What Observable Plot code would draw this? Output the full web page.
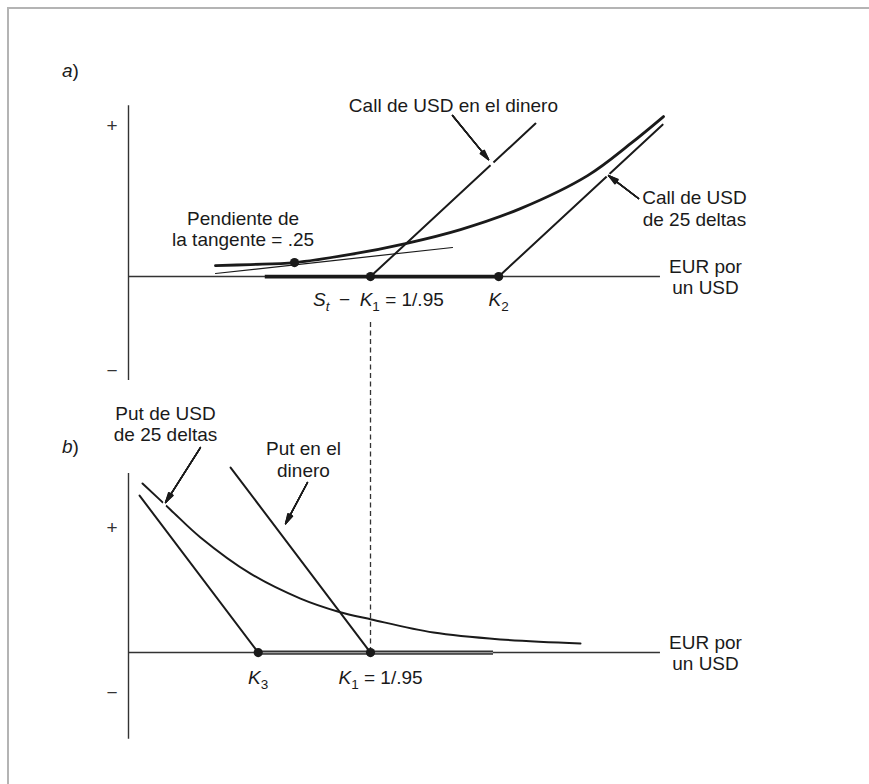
<!DOCTYPE html>
<html><head><meta charset="utf-8">
<script src="https://cdn.jsdelivr.net/npm/d3@7"></script>
<script src="https://cdn.jsdelivr.net/npm/@observablehq/plot@0.6"></script>
<style>
html,body{margin:0;padding:0;background:#fff;}
#wrap{position:relative;width:869px;height:784px;overflow:hidden;background:#fff;}
#frame{position:absolute;left:7px;top:7px;width:900px;height:800px;border-top:2px solid #b4b4b4;border-left:2px solid #b4b4b4;}
#wrap svg{position:absolute;left:0;overflow:visible;}
</style></head><body><div id="wrap"><div id="frame"></div></div>
<script>
// ---------- shared values (x = EUR por un USD, y = valor) ----------
const K1 = 1 / 0.95;
const K2 = 1.107;
const K3 = 1.005;
const xAxisStart = 0.95;
const xAxisEnd = 1.1756;

// ---------- panel a) ----------
const callCurveX = [0.9869, 1.0017, 1.0204, 1.0441, 1.0675, 1.0908, 1.1162, 1.1447, 1.1629, 1.1769];
const callCurveY = [0.0050, 0.0055, 0.0064, 0.0101, 0.0151, 0.0215, 0.0311, 0.0462, 0.0608, 0.0732];
const tangentX = [0.9869, 1.0874];
const tangentY = [0.0014, 0.0133];
const tangencyX = [1.0204];
const tangencyY = [0.0064];
const atmCallX = [K1, 1.1226];
const atmCallY = [0, 0.0700];
const otmCallX = [K2, 1.1765];
const otmCallY = [0, 0.0695];
const intrinsicAX = [1.008, K2];
const axisAY = [-0.0476, 0.0782];
const signTicksA = [0.0691, -0.0430];
const dashTopA = -0.021;
const arrowsA_x1 = [1.0874, 1.1663];
const arrowsA_y1 = [0.0737, 0.0357];
const arrowsA_x2 = [1.1027, 1.1536];
const arrowsA_y2 = [0.0535, 0.0462];
const arrowsA_gap = [true, true];
const labelsA_text = ["a)", "Call de USD en el dinero", "Pendiente de\nla tangente = .25", "Call de USD\nde 25 deltas", "EUR por\nun USD", "S_t − K_1 = 1/.95", "K_2"];
const labelsA_x = [0.9254, 1.0878, 0.9986, 1.1900, 1.1947, 1.0560, K2];
const labelsA_y = [0.0942, 0.0782, 0.0220, 0.0313, 0, -0.0105, -0.0105];

// ---------- panel b) ----------
const putCurveX = [0.95594, 0.96781, 0.98053, 1.00174, 1.02294, 1.03906, 1.05305, 1.07935, 1.10776, 1.14169];
const putCurveY = [0.0542, 0.0458, 0.0369, 0.0253, 0.0173, 0.0131, 0.0106, 0.0064, 0.0042, 0.0029];
const otmPutX = [0.9547, K3];
const otmPutY = [0.0503, 0];
const atmPutX = [0.9933, K1];
const atmPutY = [0.0593, 0];
const intrinsicBX = [K3, 1.1048];
const axisBY = [-0.0278, 0.0574];
const signTicksB = [0.0401, -0.0128];
const arrowsB_x1 = [0.9805, 1.0259];
const arrowsB_y1 = [0.0657, 0.0545];
const arrowsB_x2 = [0.9657, 1.0166];
const arrowsB_y2 = [0.0481, 0.0413];
const arrowsB_gap = [true, false];
const labelsB_text = ["b)", "Put de USD\nde 25 deltas", "Put en el\ndinero", "EUR por\nun USD", "K_3", "K_1 = 1/.95"];
const labelsB_x = [0.9254, 0.9657, 1.0242, 1.1947, K3, 1.0569];
const labelsB_y = [0.0663, 0.0734, 0.0620, 0, -0.0080, -0.0080];

// ---------- helpers ----------
const FONT = "'Liberation Sans', Arial, Helvetica, sans-serif";
const ink = "#1a1a1a";
const headAngles = [6, 12, 18, 24, 30];
const zip = (xs, ys) => xs.map((x, i) => ({x, y: ys[i]}));
const arrowTable = (x1, y1, x2, y2, gap) => x1.map((_, i) => ({x1: x1[i], y1: y1[i], x2: x2[i], y2: y2[i], gap: gap[i]}));
const gapTable = (arrows) => arrows.filter(a => a.gap).map(a => ({
  x1: a.x1 + (a.x2 - a.x1) * 0.97, y1: a.y1 + (a.y2 - a.y1) * 0.97,
  x2: a.x1 + (a.x2 - a.x1) * 1.15, y2: a.y1 + (a.y2 - a.y1) * 1.15
}));
const labelTable = (t, xs, ys) => t.map((s, i) => ({t: s, x: xs[i], y: ys[i]}));
// filled-looking arrow head: several heads of growing angle on the same shaft
const arrowMarks = (data) => headAngles.map(a => Plot.arrow(data, {
  x1: "x1", y1: "y1", x2: "x2", y2: "y2", stroke: ink, strokeWidth: 1.4, headLength: 11, headAngle: a
}));

const rich = {
  "a)": [["a", "i"], [")", ""]],
  "b)": [["b", "i"], [")", ""]],
  "S_t − K_1 = 1/.95": [["S", "i"], ["t", "isub"], ["\u2002\u2212\u2002", ""], ["K", "i"], ["1", "sub"], [" = 1/.95", ""]],
  "K_2": [["K", "i"], ["2", "sub"]],
  "K_3": [["K", "i"], ["3", "sub"]],
  "K_1 = 1/.95": [["K", "i"], ["1", "sub"], [" = 1/.95", ""]]
};
function enrich(svg) {
  d3.select(svg).selectAll("text").each(function () {
    const spec = rich[this.textContent];
    if (!spec) return;
    const t = d3.select(this);
    t.text(null);
    let shift = 0;
    for (const [s, st] of spec) {
      const sp = t.append("tspan").text(s);
      if (st === "i" || st === "isub") sp.attr("font-style", "italic");
      const sub = st === "sub" || st === "isub";
      const want = sub ? 5 : 0;
      if (want !== shift) { sp.attr("dy", want - shift); shift = want; }
      if (sub) sp.attr("font-size", "13.5px");
    }
  });
}

const common = {
  width: 869,
  marginLeft: 128, marginRight: 151.5, marginTop: 0, marginBottom: 0,
  style: {fontFamily: FONT, fontSize: "19px", color: ink, background: "transparent", overflow: "visible"}
};

// ---------- plot a ----------
const arrowsA = arrowTable(arrowsA_x1, arrowsA_y1, arrowsA_x2, arrowsA_y2, arrowsA_gap);
const plotA = Plot.plot({
  ...common,
  height: 400,
  x: {domain: [0.95, 1.2], axis: null},
  y: {domain: [-0.0567, 0.1263], axis: null},
  marks: [
    Plot.axisY({ticks: signTicksA, tickSize: 0, tickPadding: 11, tickFormat: d => d > 0 ? "+" : "\u2212", label: null, fontSize: 19, fill: "#333"}),
    Plot.ruleY([0], {x1: xAxisStart, x2: xAxisEnd, stroke: "#333", strokeWidth: 1.4}),
    Plot.ruleX([xAxisStart], {y1: axisAY[0], y2: axisAY[1], stroke: "#333", strokeWidth: 1.4}),
    Plot.ruleX([K1], {y1: dashTopA, y2: -0.0567, stroke: "#333", strokeWidth: 1.3, strokeDasharray: "5,3.5"}),
    Plot.ruleY([0], {x1: intrinsicAX[0], x2: intrinsicAX[1], stroke: ink, strokeWidth: 3.8}),
    Plot.line(zip(atmCallX, atmCallY), {x: "x", y: "y", stroke: ink, strokeWidth: 2}),
    Plot.line(zip(otmCallX, otmCallY), {x: "x", y: "y", stroke: ink, strokeWidth: 2}),
    Plot.line(zip(tangentX, tangentY), {x: "x", y: "y", stroke: ink, strokeWidth: 1.2}),
    Plot.line(zip(callCurveX, callCurveY), {x: "x", y: "y", stroke: ink, strokeWidth: 2.8, curve: "catmull-rom"}),
    Plot.link(gapTable(arrowsA), {x1: "x1", y1: "y1", x2: "x2", y2: "y2", stroke: "white", strokeWidth: 4}),
    ...arrowMarks(arrowsA),
    Plot.dot([{x: K1, y: 0}, {x: K2, y: 0}, ...zip(tangencyX, tangencyY)], {x: "x", y: "y", r: 4.6, fill: ink, stroke: "none"}),
    Plot.text(labelTable(labelsA_text, labelsA_x, labelsA_y), {x: "x", y: "y", text: "t", fill: ink, lineAnchor: "middle", lineHeight: 1.12, fontSize: 19})
  ]
});
plotA.style.top = "0px";
enrich(plotA);
document.getElementById("wrap").appendChild(plotA);

// ---------- plot b ----------
const arrowsB = arrowTable(arrowsB_x1, arrowsB_y1, arrowsB_x2, arrowsB_y2, arrowsB_gap);
const plotB = Plot.plot({
  ...common,
  height: 384,
  x: {domain: [0.95, 1.2], axis: null},
  y: {domain: [-0.0423, 0.0808], axis: null},
  marks: [
    Plot.axisY({ticks: signTicksB, tickSize: 0, tickPadding: 11, tickFormat: d => d > 0 ? "+" : "\u2212", label: null, fontSize: 19, fill: "#333"}),
    Plot.ruleY([0], {x1: xAxisStart, x2: xAxisEnd, stroke: "#333", strokeWidth: 1.4}),
    Plot.ruleX([xAxisStart], {y1: axisBY[0], y2: axisBY[1], stroke: "#333", strokeWidth: 1.4}),
    Plot.ruleX([K1], {y1: 0, y2: 0.0808, stroke: "#333", strokeWidth: 1.3, strokeDasharray: "5,3.5"}),
    Plot.ruleY([0], {x1: intrinsicBX[0], x2: intrinsicBX[1], stroke: "#333", strokeWidth: 4.2}),
    Plot.ruleY([0], {x1: intrinsicBX[0], x2: intrinsicBX[1], stroke: "#9a9a9a", strokeWidth: 1.2}),
    Plot.line(zip(otmPutX, otmPutY), {x: "x", y: "y", stroke: ink, strokeWidth: 2}),
    Plot.line(zip(atmPutX, atmPutY), {x: "x", y: "y", stroke: ink, strokeWidth: 2}),
    Plot.line(zip(putCurveX, putCurveY), {x: "x", y: "y", stroke: ink, strokeWidth: 2, curve: "catmull-rom"}),
    Plot.link(gapTable(arrowsB), {x1: "x1", y1: "y1", x2: "x2", y2: "y2", stroke: "white", strokeWidth: 4}),
    ...arrowMarks(arrowsB),
    Plot.dot([{x: K3, y: 0}, {x: K1, y: 0}], {x: "x", y: "y", r: 4.6, fill: ink, stroke: "none"}),
    Plot.text(labelTable(labelsB_text, labelsB_x, labelsB_y), {x: "x", y: "y", text: "t", fill: ink, lineAnchor: "middle", lineHeight: 1.12, fontSize: 19})
  ]
});
plotB.style.top = "400px";
enrich(plotB);
document.getElementById("wrap").appendChild(plotB);
</script></body></html>
